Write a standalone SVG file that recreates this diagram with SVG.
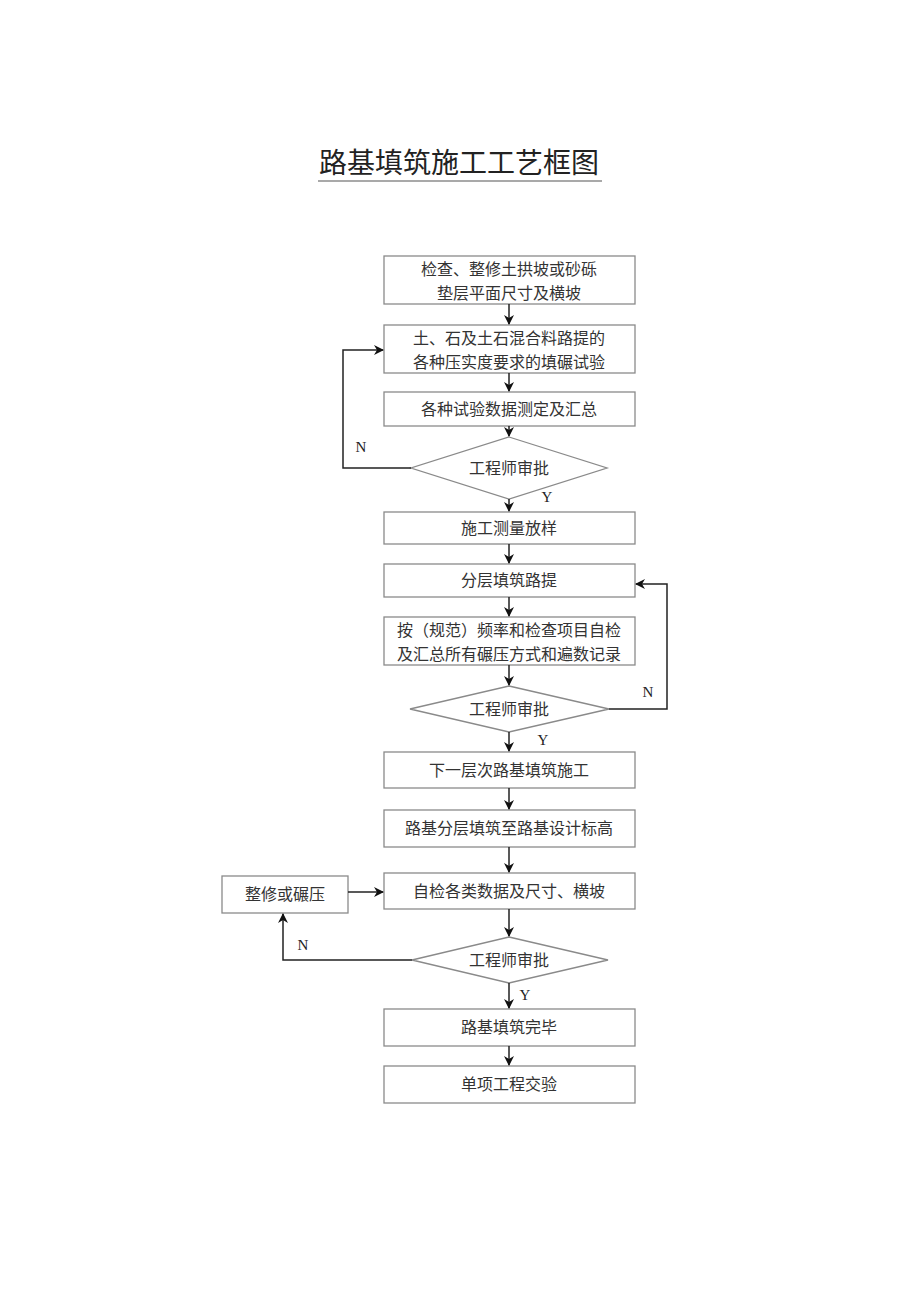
<svg xmlns="http://www.w3.org/2000/svg" width="920" height="1301" viewBox="0 0 920 1301">
<style>
.box{fill:#fff;stroke:#8a8a8a;stroke-width:1.3}
.t{font-family:"Liberation Serif","Noto Sans CJK SC",serif;font-size:16px;fill:#333;text-anchor:middle}
.lbl{font-family:"Liberation Serif","Noto Sans CJK SC",serif;font-size:15px;fill:#222;text-anchor:middle}
.ln{fill:none;stroke:#222;stroke-width:1.5}
</style>
<defs>
<marker id="ah" markerWidth="10" markerHeight="10" refX="9" refY="5" orient="auto" markerUnits="userSpaceOnUse">
<path d="M0,0 L10,5 L0,10 L3,5 Z" fill="#111"/>
</marker>
</defs>
<rect width="920" height="1301" fill="#fff"/>
<g id="title">
<text x="459" y="173" font-family="Liberation Serif,'Noto Sans CJK SC',serif" font-size="28" fill="#222" text-anchor="middle">路基填筑施工工艺框图</text>
<line x1="318" y1="181" x2="602" y2="181" stroke="#555" stroke-width="1.2"/>
</g>
<g id="n1"><rect class="box" x="384" y="256" width="251" height="48"/><text class="t" x="509" y="275">检查、整修土拱坡或砂砾</text><text class="t" x="509" y="299">垫层平面尺寸及横坡</text></g>
<g id="n2"><rect class="box" x="384" y="325" width="251" height="48"/><text class="t" x="509" y="344">土、石及土石混合料路提的</text><text class="t" x="509" y="368">各种压实度要求的填碾试验</text></g>
<g id="n3"><rect class="box" x="384" y="392" width="251" height="34"/><text class="t" x="509" y="415">各种试验数据测定及汇总</text></g>
<g id="d1"><polygon class="box" points="509,437 607,468 509,499 411,468"/><text class="t" x="509" y="474">工程师审批</text></g>
<g id="n4"><rect class="box" x="384" y="512" width="251" height="32"/><text class="t" x="509" y="534">施工测量放样</text></g>
<g id="n5"><rect class="box" x="384" y="564" width="251" height="33"/><text class="t" x="509" y="586">分层填筑路提</text></g>
<g id="n6"><rect class="box" x="384" y="617" width="251" height="48"/><text class="t" x="509" y="636">按（规范）频率和检查项目自检</text><text class="t" x="509" y="660">及汇总所有碾压方式和遍数记录</text></g>
<g id="d2"><polygon class="box" points="509,686 609,709 509,732 410,709"/><text class="t" x="509" y="715">工程师审批</text></g>
<g id="n7"><rect class="box" x="384" y="752" width="251" height="36"/><text class="t" x="509" y="776">下一层次路基填筑施工</text></g>
<g id="n8"><rect class="box" x="384" y="810" width="251" height="37"/><text class="t" x="509" y="834">路基分层填筑至路基设计标高</text></g>
<g id="n9"><rect class="box" x="384" y="873" width="251" height="36"/><text class="t" x="509" y="897">自检各类数据及尺寸、横坡</text></g>
<g id="n10"><rect class="box" x="222" y="876" width="126" height="37"/><text class="t" x="285" y="900">整修或碾压</text></g>
<g id="d3"><polygon class="box" points="509,937 608,960 509,983 412,960"/><text class="t" x="509" y="966">工程师审批</text></g>
<g id="n11"><rect class="box" x="384" y="1009" width="251" height="37"/><text class="t" x="509" y="1033">路基填筑完毕</text></g>
<g id="n12"><rect class="box" x="384" y="1066" width="251" height="37"/><text class="t" x="509" y="1090">单项工程交验</text></g>
<g id="connectors">
<line class="ln" x1="509" y1="304" x2="509" y2="324" marker-end="url(#ah)"/>
<line class="ln" x1="509" y1="373" x2="509" y2="391" marker-end="url(#ah)"/>
<line class="ln" x1="509" y1="426" x2="509" y2="436" marker-end="url(#ah)"/>
<polyline class="ln" points="411,468 343,468 343,350 383,350" marker-end="url(#ah)"/>
<line class="ln" x1="509" y1="499" x2="509" y2="511" marker-end="url(#ah)"/>
<line class="ln" x1="509" y1="544" x2="509" y2="563" marker-end="url(#ah)"/>
<line class="ln" x1="509" y1="597" x2="509" y2="616" marker-end="url(#ah)"/>
<line class="ln" x1="509" y1="665" x2="509" y2="685" marker-end="url(#ah)"/>
<polyline class="ln" points="609,709 667,709 667,584 636,584" marker-end="url(#ah)"/>
<line class="ln" x1="509" y1="732" x2="509" y2="751" marker-end="url(#ah)"/>
<line class="ln" x1="509" y1="788" x2="509" y2="809" marker-end="url(#ah)"/>
<line class="ln" x1="509" y1="847" x2="509" y2="872" marker-end="url(#ah)"/>
<line class="ln" x1="348" y1="892" x2="383" y2="892" marker-end="url(#ah)"/>
<line class="ln" x1="509" y1="909" x2="509" y2="936" marker-end="url(#ah)"/>
<polyline class="ln" points="412,960 283,960 283,914" marker-end="url(#ah)"/>
<line class="ln" x1="509" y1="983" x2="509" y2="1008" marker-end="url(#ah)"/>
<line class="ln" x1="509" y1="1046" x2="509" y2="1065" marker-end="url(#ah)"/>
<text class="lbl" x="361" y="452">N</text>
<text class="lbl" x="547" y="502">Y</text>
<text class="lbl" x="648" y="697">N</text>
<text class="lbl" x="543" y="745">Y</text>
<text class="lbl" x="303" y="950">N</text>
<text class="lbl" x="525" y="1000">Y</text>
</g>
</svg>
